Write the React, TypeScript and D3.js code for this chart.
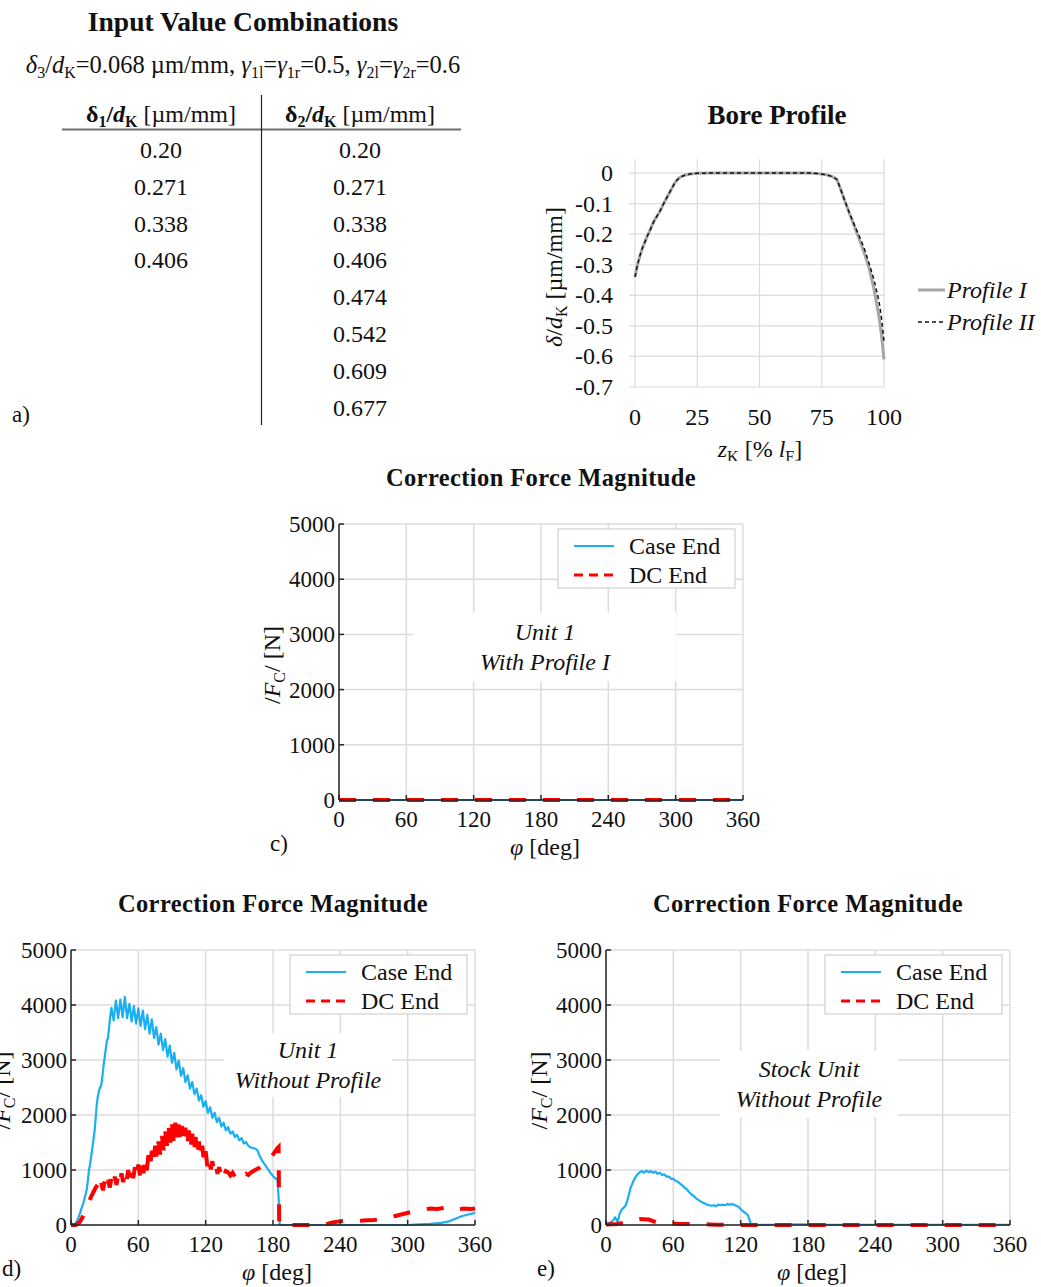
import React from 'react';
import * as d3 from 'd3';

const FONT = '"Liberation Serif", "Times New Roman", serif';

// a) table of input values
const delta1Values = ['0.20', '0.271', '0.338', '0.406'];
const delta2Values = ['0.20', '0.271', '0.338', '0.406', '0.474', '0.542', '0.609', '0.677'];

// b) bore profile, [z %, delta/dK]
const profileI: [number, number][] = [
  [0, -0.34], [1, -0.3], [2, -0.27], [3, -0.245], [4, -0.225], [5, -0.205], [6, -0.188],
  [7, -0.168], [8, -0.152], [10, -0.125], [12, -0.092], [14, -0.062], [16, -0.032],
  [17, -0.022], [18, -0.014], [20, -0.007], [22, -0.003], [25, -0.001], [30, 0], [70, 0],
  [74, -0.002], [77, -0.006], [79, -0.011], [81, -0.02], [82, -0.04], [84, -0.085],
  [86, -0.13], [88, -0.172], [90, -0.215], [92, -0.26], [94, -0.31], [96, -0.38],
  [98, -0.47], [99, -0.53], [100, -0.61],
];
const profileII: [number, number][] = [
  [0, -0.34], [1, -0.3], [2, -0.27], [3, -0.245], [4, -0.225], [5, -0.205], [6, -0.188],
  [7, -0.168], [8, -0.152], [10, -0.125], [12, -0.092], [14, -0.062], [16, -0.032],
  [17, -0.022], [18, -0.014], [20, -0.007], [22, -0.003], [25, -0.001], [30, 0], [70, 0],
  [74, -0.002], [77, -0.006], [79, -0.011], [81, -0.02], [82, -0.04], [84, -0.085],
  [86, -0.128], [88, -0.168], [90, -0.205], [92, -0.245], [94, -0.295], [96, -0.35],
  [98, -0.42], [99, -0.475], [100, -0.55],
];
const boreXTicks = [0, 25, 50, 75, 100];
const boreYTicks = [0, -0.1, -0.2, -0.3, -0.4, -0.5, -0.6, -0.7];

// c), d), e) correction force, [phi deg, N]
const forceXTicks = [0, 60, 120, 180, 240, 300, 360];
const forceYTicks = [0, 1000, 2000, 3000, 4000, 5000];

const caseEndProfileI: [number, number][] = [[0, 0], [360, 0]];
const dcEndProfileI: [number, number][] = [[0, 0], [360, 0]];

const caseEndUnit1: [number, number][] = [
  [0, 0], [3, 10], [5, 60], [7, 150], [9, 280], [11, 400], [13, 560], [14, 640], [15, 800],
  [16, 1000], [17, 1100], [18, 1250], [19, 1400], [20, 1550], [21, 1700], [22, 1950],
  [23, 2200], [24, 2350], [25, 2450], [26, 2500], [27, 2550], [28, 2700], [29, 2900],
  [30, 3050], [31, 3200], [32, 3350], [33, 3400], [34, 3600], [35, 3800], [36, 3950],
  [38, 3720], [40, 4080], [42, 3760], [44, 4100], [46, 3780], [48, 4150], [50, 3760],
  [52, 4020], [54, 3700], [56, 3980], [58, 3660], [60, 3940], [62, 3620], [64, 3900],
  [66, 3560], [68, 3820], [70, 3480], [72, 3740], [74, 3400], [76, 3600], [78, 3280],
  [80, 3480], [82, 3180], [84, 3380], [86, 3060], [88, 3260], [90, 2950], [92, 3130],
  [94, 2830], [96, 2990], [98, 2710], [100, 2850], [102, 2600], [104, 2720], [106, 2480],
  [108, 2600], [110, 2380], [112, 2480], [114, 2260], [116, 2360], [118, 2150], [120, 2250],
  [122, 2040], [124, 2140], [126, 1950], [128, 2040], [130, 1870], [132, 1950], [134, 1790],
  [136, 1860], [138, 1720], [140, 1780], [142, 1660], [144, 1700], [146, 1600], [148, 1640],
  [150, 1540], [152, 1580], [154, 1480], [156, 1510], [158, 1440], [160, 1410], [162, 1400],
  [164, 1390], [166, 1360], [168, 1260], [170, 1180], [172, 1120], [174, 1060], [176, 1000],
  [178, 940], [180, 890], [182, 850], [184, 820], [185, 500], [186, 0], [300, 0], [310, 10],
  [320, 20], [330, 40], [336, 60], [342, 110], [348, 160], [354, 190], [360, 220],
];
const dcEndUnit1: [number, number][] = [
  [0, 0], [4, 0], [6, 20], [8, 60], [10, 130], [12, 220], [14, 320], [16, 420], [18, 520],
  [20, 600], [22, 680], [24, 740], [25.5, 600], [27, 760], [28.5, 630], [30, 800], [31.5, 660],
  [33, 820], [34.5, 680], [36, 850], [37.5, 700], [39, 880], [40.5, 730], [42, 900],
  [43.5, 760], [45, 940], [46.5, 780], [48, 960], [49.5, 800], [51, 1000], [52.5, 830],
  [54, 1030], [55.5, 850], [57, 1060], [58.5, 880], [60, 1100], [61.5, 900], [63, 1150],
  [64.5, 940], [66, 1200], [67.5, 990], [69, 1270], [70.5, 1050], [72, 1350], [73.5, 1130],
  [75, 1440], [76.5, 1200], [78, 1520], [79.5, 1280], [81, 1620], [82.5, 1360], [84, 1700],
  [85.5, 1440], [87, 1780], [88.5, 1500], [90, 1840], [91.5, 1520], [93, 1860], [94.5, 1520],
  [96, 1830], [97.5, 1480], [99, 1800], [100.5, 1460], [102, 1770], [103.5, 1420],
  [105, 1720], [106.5, 1380], [108, 1660], [109.5, 1330], [111, 1600], [112.5, 1270],
  [114, 1520], [115.5, 1200], [117, 1440], [118.5, 1130], [120, 1340], [121.5, 1070],
  [123, 1240], [124.5, 1010], [126, 1160], [127.5, 970], [129, 1100], [130.5, 930],
  [132, 1050], [133.5, 910], [135, 1010], [136.5, 900], [138, 980], [140, 960], [142, 900],
  [144, 950], [146, 880], [148, 940], [150, 880], [152, 920], [154, 890], [156, 930],
  [158, 910], [160, 950], [164, 1000], [168, 1040], [172, 1100], [176, 1180], [180, 1280],
  [184, 1400], [185, 1420], [185.5, 0], [225, 0], [232, 40], [240, 70], [250, 75],
  [260, 80], [270, 90], [280, 120], [288, 160], [296, 200], [304, 240], [312, 270],
  [320, 300], [326, 290], [332, 310], [338, 330], [344, 280], [350, 300], [356, 290],
  [360, 300],
];

const caseEndStock: [number, number][] = [
  [0, 20], [3, 40], [5, 60], [7, 100], [8, 140], [9, 110], [10, 60], [11, 100], [12, 200],
  [14, 280], [16, 320], [17, 340], [18, 380], [19, 450], [20, 520], [21, 600], [22, 680],
  [24, 780], [26, 860], [28, 920], [30, 960], [32, 980], [34, 950], [36, 990], [38, 960],
  [40, 980], [42, 950], [44, 970], [46, 930], [48, 950], [50, 910], [52, 920], [54, 880],
  [56, 880], [58, 840], [60, 840], [62, 800], [64, 790], [66, 750], [68, 720], [70, 680],
  [72, 650], [74, 600], [76, 560], [78, 530], [80, 490], [82, 460], [84, 430], [86, 410],
  [88, 390], [90, 370], [92, 360], [94, 350], [96, 360], [98, 340], [100, 370], [102, 360],
  [104, 370], [106, 360], [108, 380], [110, 370], [112, 380], [114, 370], [116, 350],
  [118, 330], [120, 290], [122, 250], [124, 220], [126, 190], [127, 150], [128, 90],
  [129, 30], [130, 0], [150, 5], [170, 10], [200, 5], [360, 5],
];
const dcEndStock: [number, number][] = [
  [0, 10], [5, 15], [10, 20], [14, 30], [18, 40], [22, 70], [26, 100], [30, 110], [34, 105],
  [38, 100], [42, 70], [46, 40], [50, 30], [56, 30], [62, 25], [68, 20], [76, 20], [84, 15],
  [92, 10], [100, 5], [110, 0], [360, 0],
];

const BLUE = '#1aaff0';
const RED = '#ff0000';
const GRID = '#dcdcdc';
const AXIS = '#262626';

function Sub({ children, size = 16 }: { children: React.ReactNode; size?: number }) {
  return <tspan fontSize={size} dy={5}>{children}</tspan>;
}
function Up({ children }: { children: React.ReactNode }) {
  return <tspan dy={-5}>{children}</tspan>;
}

function InputTable() {
  const rowY = (i: number) => 158 + i * 36.8;
  return (
    <g fontFamily={FONT} fill="#111">
      <text x={243} y={31} textAnchor="middle" fontSize={27.5} fontWeight="bold">Input Value Combinations</text>
      <text x={243} y={73} textAnchor="middle" fontSize={24.5}>
        <tspan fontStyle="italic">δ</tspan><Sub>3</Sub><Up>/</Up><tspan fontStyle="italic">d</tspan>
        <Sub>K</Sub><Up>=0.068 µm/mm, </Up><tspan fontStyle="italic">γ</tspan><Sub>1l</Sub>
        <Up>=</Up><tspan fontStyle="italic">γ</tspan><Sub>1r</Sub><Up>=0.5, </Up>
        <tspan fontStyle="italic">γ</tspan><Sub>2l</Sub><Up>=</Up><tspan fontStyle="italic">γ</tspan>
        <Sub>2r</Sub><Up>=0.6</Up>
      </text>
      {[1, 2].map((k) => (
        <text key={k} x={k === 1 ? 161 : 360} y={122} textAnchor="middle" fontSize={24}>
          <tspan fontWeight="bold">δ</tspan><tspan fontWeight="bold" fontSize={16} dy={5}>{k}</tspan>
          <tspan fontWeight="bold" dy={-5}>/</tspan><tspan fontWeight="bold" fontStyle="italic">d</tspan>
          <tspan fontWeight="bold" fontSize={16} dy={5}>K</tspan><tspan dy={-5}> [µm/mm]</tspan>
        </text>
      ))}
      <line x1={62} x2={461} y1={129.5} y2={129.5} stroke="#6e6e6e" strokeWidth={2} />
      <line x1={261.5} x2={261.5} y1={95} y2={425} stroke="#222" strokeWidth={1.2} />
      {delta1Values.map((v, i) => (
        <text key={'a' + i} x={161} y={rowY(i)} textAnchor="middle" fontSize={24}>{v}</text>
      ))}
      {delta2Values.map((v, i) => (
        <text key={'b' + i} x={360} y={rowY(i)} textAnchor="middle" fontSize={24}>{v}</text>
      ))}
      <text x={12} y={422} fontSize={23}>a)</text>
    </g>
  );
}

function BoreProfile() {
  const left = 635, right = 884, top = 159, bottom = 387;
  const x = d3.scaleLinear().domain([0, 100]).range([left, right]);
  const y = d3.scaleLinear().domain([-0.7, 0.046]).range([bottom, top]);
  const line = d3.line<[number, number]>().x((d) => x(d[0])).y((d) => y(d[1]));
  return (
    <g fontFamily={FONT} fill="#111">
      <defs>
        <clipPath id="boreLabelClip"><rect x={600} y={430} width={300} height={31} /></clipPath>
      </defs>
      <text x={777} y={124} textAnchor="middle" fontSize={27} fontWeight="bold">Bore Profile</text>
      {boreXTicks.map((t) => (
        <line key={'gx' + t} x1={x(t)} x2={x(t)} y1={top} y2={bottom} stroke={GRID} strokeWidth={1.2} />
      ))}
      {boreYTicks.map((t) => (
        <line key={'gy' + t} x1={left - 6} x2={right} y1={y(t)} y2={y(t)} stroke={GRID} strokeWidth={1.2} />
      ))}
      <path d={line(profileI) || ''} fill="none" stroke="#a6a6a6" strokeWidth={3} />
      <path d={line(profileII) || ''} fill="none" stroke="#111" strokeWidth={1.5} strokeDasharray="4,3" />
      {boreYTicks.map((t) => (
        <text key={'ty' + t} x={613} y={y(t) + 8} textAnchor="end" fontSize={24}>
          {t === 0 ? '0' : d3.format('.1f')(t).replace('−', '-')}
        </text>
      ))}
      {boreXTicks.map((t) => (
        <text key={'tx' + t} x={x(t)} y={425} textAnchor="middle" fontSize={24}>{t}</text>
      ))}
      <text transform="translate(562,277) rotate(-90)" textAnchor="middle" fontSize={24}>
        <tspan fontStyle="italic">δ</tspan>/<tspan fontStyle="italic">d</tspan><Sub>K</Sub>
        <Up> [µm/mm]</Up>
      </text>
      <g clipPath="url(#boreLabelClip)">
        <text x={760} y={457} textAnchor="middle" fontSize={24}>
          <tspan fontStyle="italic">z</tspan><Sub>K</Sub><Up> [% </Up><tspan fontStyle="italic">l</tspan>
          <Sub>F</Sub><Up>]</Up>
        </text>
      </g>
      <line x1={918} x2={945} y1={290} y2={290} stroke="#a6a6a6" strokeWidth={3} />
      <text x={947} y={298} fontSize={24} fontStyle="italic">Profile I</text>
      <line x1={918} x2={945} y1={322} y2={322} stroke="#111" strokeWidth={1.5} strokeDasharray="4,3" />
      <text x={947} y={330} fontSize={24} fontStyle="italic">Profile II</text>
    </g>
  );
}

type ForceProps = {
  left: number; right: number; top: number; bottom: number; letter: string; labelX: number;
  notes: string[]; noteCx: number; noteCy: number; boxW: number; boxH: number;
  caseEnd: [number, number][]; dcEnd: [number, number][];
};

function ForceChart(p: ForceProps) {
  const { left, right, top, bottom } = p;
  const x = d3.scaleLinear().domain([0, 360]).range([left, right]);
  const y = d3.scaleLinear().domain([0, 5000]).range([bottom, top]);
  const line = d3.line<[number, number]>().x((d) => x(d[0])).y((d) => y(d[1]));
  const cx = (left + right) / 2;
  const lgL = right - 185, lgT = top + 5;
  return (
    <g fontFamily={FONT} fill="#111">
      <text x={cx} y={top - 38} textAnchor="middle" fontSize={24.5} fontWeight="bold" letterSpacing={0.4}>
        Correction Force Magnitude
      </text>
      {forceXTicks.map((t) => (
        <line key={'gx' + t} x1={x(t)} x2={x(t)} y1={top} y2={bottom} stroke={GRID} strokeWidth={1.5} />
      ))}
      {forceYTicks.map((t) => (
        <line key={'gy' + t} x1={left} x2={right} y1={y(t)} y2={y(t)} stroke={GRID} strokeWidth={1.5} />
      ))}
      <rect x={p.noteCx - p.boxW / 2} y={p.noteCy - p.boxH / 2} width={p.boxW} height={p.boxH} fill="#fff" />
      {p.notes.map((n, i) => (
        <text key={n} x={p.noteCx} y={p.noteCy - 7 + i * 30} textAnchor="middle" fontSize={24} fontStyle="italic">{n}</text>
      ))}
      <path d={line(p.caseEnd) || ''} fill="none" stroke={BLUE} strokeWidth={2.2} strokeLinejoin="round" />
      <path d={line(p.dcEnd) || ''} fill="none" stroke={RED} strokeWidth={4} strokeDasharray="17,17" />
      <line x1={left} x2={left} y1={top} y2={bottom} stroke={AXIS} strokeWidth={1.5} />
      <line x1={left} x2={right} y1={bottom} y2={bottom} stroke={AXIS} strokeWidth={1.5} />
      {forceXTicks.map((t) => (
        <g key={'tx' + t}>
          <line x1={x(t)} x2={x(t)} y1={bottom} y2={bottom - 5} stroke={AXIS} strokeWidth={1.5} />
          <text x={x(t)} y={bottom + 27} textAnchor="middle" fontSize={23}>{t}</text>
        </g>
      ))}
      {forceYTicks.map((t) => (
        <g key={'ty' + t}>
          <line x1={left} x2={left + 5} y1={y(t)} y2={y(t)} stroke={AXIS} strokeWidth={1.5} />
          <text x={left - 4} y={y(t) + 8} textAnchor="end" fontSize={23}>{t}</text>
        </g>
      ))}
      <text transform={`translate(${p.labelX},${(top + bottom) / 2 + 3}) rotate(-90)`} textAnchor="middle" fontSize={24}>
        /<tspan fontStyle="italic">F</tspan><Sub>C</Sub><Up>/ [N]</Up>
      </text>
      <text x={cx + 4} y={bottom + 55} textAnchor="middle" fontSize={24}>
        <tspan fontStyle="italic">φ</tspan> [deg]
      </text>
      <text x={left - 69} y={bottom + 51} fontSize={23}>{p.letter}</text>
      <rect x={lgL} y={lgT} width={177} height={59} fill="#fff" stroke="#d0d0d0" strokeWidth={1.2} />
      <line x1={lgL + 16} x2={lgL + 56} y1={lgT + 17} y2={lgT + 17} stroke={BLUE} strokeWidth={2.2} />
      <text x={lgL + 71} y={lgT + 25} fontSize={24}>Case End</text>
      <line x1={lgL + 16} x2={lgL + 56} y1={lgT + 46} y2={lgT + 46} stroke={RED} strokeWidth={3} strokeDasharray="9,6" />
      <text x={lgL + 71} y={lgT + 54} fontSize={24}>DC End</text>
    </g>
  );
}

export default function App() {
  return (
    <svg width={1041} height={1287} style={{ position: 'absolute', left: 0, top: 0, background: '#fff' }}>
      <rect width={1041} height={1287} fill="#fff" />
      <InputTable />
      <BoreProfile />
      <ForceChart left={339} right={743} top={524} bottom={800} letter="c)" labelX={280}
        notes={['Unit 1', 'With Profile I']} noteCx={545} noteCy={647} boxW={263} boxH={69}
        caseEnd={caseEndProfileI} dcEnd={dcEndProfileI} />
      <ForceChart left={71} right={475} top={950} bottom={1225} letter="d)" labelX={10}
        notes={['Unit 1', 'Without Profile']} noteCx={308} noteCy={1065} boxW={168} boxH={64}
        caseEnd={caseEndUnit1} dcEnd={dcEndUnit1} />
      <ForceChart left={606} right={1010} top={950} bottom={1225} letter="e)" labelX={547}
        notes={['Stock Unit', 'Without Profile']} noteCx={809} noteCy={1084} boxW={178} boxH={67}
        caseEnd={caseEndStock} dcEnd={dcEndStock} />
    </svg>
  );
}
